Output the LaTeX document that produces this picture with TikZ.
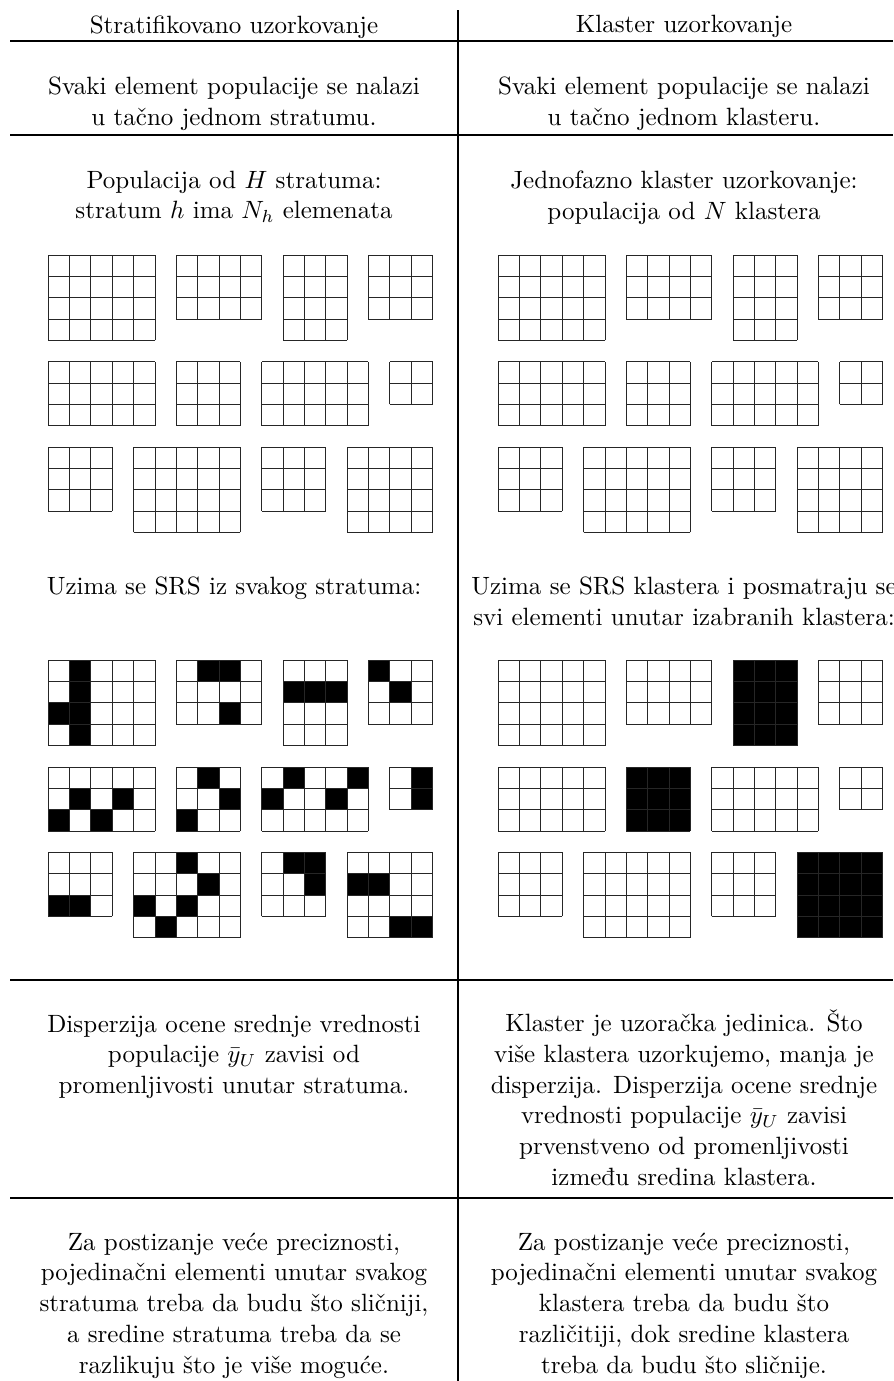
\documentclass[tikz,border=0pt]{standalone}
\usepackage{amsmath}
\usepackage{tikz}

% mreza: x, y (od vrha, u celijama), broj kolona, broj vrsta
\newcommand{\mreza}[4]{\draw[celija] (#1,-#2) grid ({#1+#3},{-#2-#4});}
\newcommand{\puna}[4]{\fill (#1,-#2) rectangle ({#1+#3},{-#2-#4});}

\begin{document}
\begin{tikzpicture}[
	tekst/.style={align=center,anchor=north,inner sep=0pt,font=\fontsize{10pt}{12.3pt}\selectfont},
	linija/.style={line width=0.5pt},
	celija/.style={line width=0.4pt,black!85,step=1},
	panel/.style={x=0.3cm,y=0.3cm}]
	\useasboundingbox (0,0) rectangle (12.552,-19.411);
	% linije tabele
	\coordinate (gore) at (6.438,-0.141);
	\coordinate (dole) at (6.438,-19.411);
	\draw[linija] (gore) -- (dole);
	\draw[linija] (0.141,-0.576) -- (12.552,-0.576);
	\draw[linija] (0.141,-1.898) -- (12.552,-1.898);
	\draw[linija] (0.141,-13.775) -- (12.552,-13.775);
	\draw[linija] (0.141,-16.839) -- (12.552,-16.839);
	% tekst (gornja ivica prvog reda)
	\path (3.289,-0.21) node(nasl1)[tekst]{Stratifikovano uzorkovanje}
	(9.614,-0.21) node(nasl2)[tekst]{Klaster uzorkovanje}
	(3.289,-1.07) node(def1)[tekst]{Svaki element populacije se nalazi\\u tačno jednom stratumu.}
	(9.614,-1.07) node(def2)[tekst]{Svaki element populacije se nalazi\\u tačno jednom klasteru.}
	(3.289,-2.392) node(pop1)[tekst]{Populacija od $H$ stratuma:\\stratum $h$ ima $N_h$ elemenata}
	(9.614,-2.392) node(pop2)[tekst]{Jednofazno klaster uzorkovanje:\\populacija od $N$ klastera}
	(3.289,-8.098) node(srs1)[tekst]{Uzima se SRS iz svakog stratuma:}
	(9.614,-8.098) node(srs2)[tekst]{Uzima se SRS klastera i posmatraju se\\svi elementi unutar izabranih klastera:}
	(3.289,-14.255) node(disp1)[tekst]{Disperzija ocene srednje vrednosti\\populacije $\bar{y}_U$ zavisi od\\promenljivosti unutar stratuma.}
	(9.614,-14.189) node(disp2)[tekst]{Klaster je uzoračka jedinica. Što\\više klastera uzorkujemo, manja je\\disperzija. Disperzija ocene srednje\\vrednosti populacije $\bar{y}_U$ zavisi\\prvenstveno od promenljivosti\\između sredina klastera.}
	(3.289,-17.319) node(prec1)[tekst]{Za postizanje veće preciznosti,\\pojedinačni elementi unutar svakog\\stratuma treba da budu što sličniji,\\a sredine stratuma treba da se\\razlikuju što je više moguće.}
	(9.614,-17.319) node(prec2)[tekst]{Za postizanje veće preciznosti,\\pojedinačni elementi unutar svakog\\klastera treba da budu što\\različitiji, dok sredine klastera\\treba da budu što sličnije.};
	% populacija, levo i desno
	\foreach \px in {0.679cm,7.004cm}{
		\begin{scope}[shift={(\px,-3.584cm)},panel]
			\mreza{0}{0}{5}{4} \mreza{6}{0}{4}{3} \mreza{11}{0}{3}{4} \mreza{15}{0}{3}{3}
			\mreza{0}{5}{5}{3} \mreza{6}{5}{3}{3} \mreza{10}{5}{5}{3} \mreza{16}{5}{2}{2}
			\mreza{0}{9}{3}{3} \mreza{4}{9}{5}{4} \mreza{10}{9}{3}{3} \mreza{14}{9}{4}{4}
		\end{scope}
	}
	% SRS iz svakog stratuma
	\begin{scope}[shift={(0.679cm,-9.281cm)},panel]
		\foreach \i/\j in {1/0,1/1,1/2,1/3,0/2, 7/0,8/0,8/2, 11/1,12/1,13/1, 15/0,16/1,
			1/6,3/6,0/7,2/7, 7/5,8/6,6/7, 11/5,14/5,10/6,13/6, 17/5,17/6,
			0/11,1/11, 6/9,7/10,4/11,6/11,5/12, 11/9,12/9,12/10, 14/10,15/10,16/12,17/12}
			\fill (\i,-\j) rectangle ++(1,-1);
		\mreza{0}{0}{5}{4} \mreza{6}{0}{4}{3} \mreza{11}{0}{3}{4} \mreza{15}{0}{3}{3}
		\mreza{0}{5}{5}{3} \mreza{6}{5}{3}{3} \mreza{10}{5}{5}{3} \mreza{16}{5}{2}{2}
		\mreza{0}{9}{3}{3} \mreza{4}{9}{5}{4} \mreza{10}{9}{3}{3} \mreza{14}{9}{4}{4}
	\end{scope}
	% SRS klastera
	\begin{scope}[shift={(7.004cm,-9.281cm)},panel]
		\puna{11}{0}{3}{4} \puna{6}{5}{3}{3} \puna{14}{9}{4}{4}
		\mreza{0}{0}{5}{4} \mreza{6}{0}{4}{3} \mreza{11}{0}{3}{4} \mreza{15}{0}{3}{3}
		\mreza{0}{5}{5}{3} \mreza{6}{5}{3}{3} \mreza{10}{5}{5}{3} \mreza{16}{5}{2}{2}
		\mreza{0}{9}{3}{3} \mreza{4}{9}{5}{4} \mreza{10}{9}{3}{3} \mreza{14}{9}{4}{4}
	\end{scope}
\end{tikzpicture}
\end{document}
